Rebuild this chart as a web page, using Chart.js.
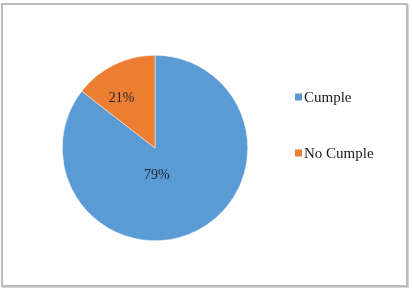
<!DOCTYPE html>
<html>
<head>
<meta charset="utf-8">
<script src="https://cdn.jsdelivr.net/npm/chart.js@4.4.0/dist/chart.umd.min.js"></script>
<style>
  html, body { margin: 0; padding: 0; background: #fff; }
  #wrap { position: relative; width: 412px; height: 290px; overflow: hidden; }
  #frame {
    position: absolute; left: 1px; top: 3px; width: 403px; height: 280px;
    border: 2px solid #bcbcbc; box-shadow: 1px 1px 0 #d8d8d8;
  }
  #pie { position: absolute; left: 0; top: 0; }
</style>
</head>
<body>
<div id="wrap">
  <div id="frame"></div>
  <canvas id="pie" width="412" height="290"></canvas>
</div>
<script>
// categorías y valores (tamaño de sector)
const categories = ["Cumple", "No Cumple"];
const values = [85.5, 14.5];
// etiquetas tal como aparecen en el gráfico original
const pctLabels = ["79%", "21%"];
const colors = ["#5B9BD5", "#ED7D31"];

const FONT = "'Liberation Serif', 'Times New Roman', serif";

// === etiquetas de datos dentro de cada sector ===
// posición relativa al centro, en fracciones del radio (como "mejor ajuste" de Excel)
const labelAnchor = [[0.02, 0.29], [-0.36, -0.54]];
const sliceLabels = {
  id: "sliceLabels",
  afterDatasetsDraw(chart) {
    const ctx = chart.ctx;
    const meta = chart.getDatasetMeta(0);
    ctx.save();
    ctx.font = "14px " + FONT;
    ctx.fillStyle = "#1d2433";
    ctx.textAlign = "center";
    ctx.textBaseline = "middle";
    meta.data.forEach((arc, i) => {
      const r = arc.outerRadius;
      ctx.fillText(pctLabels[i], arc.x + labelAnchor[i][0] * r, arc.y + labelAnchor[i][1] * r);
    });
    ctx.restore();
  }
};

// === leyenda a la derecha ===
const sideLegend = {
  id: "sideLegend",
  afterDraw(chart) {
    const ctx = chart.ctx;
    const x = 295, y0 = 97, gap = 56, box = 7;
    ctx.save();
    ctx.font = "15px " + FONT;
    ctx.textBaseline = "middle";
    ctx.textAlign = "left";
    categories.forEach((c, i) => {
      const y = y0 + i * gap;
      ctx.fillStyle = colors[i];
      ctx.fillRect(x, y - box / 2, box, box);
      ctx.fillStyle = "#1a1a1a";
      ctx.fillText(c, x + box + 2, y + 1);
    });
    ctx.restore();
  }
};

new Chart(document.getElementById("pie"), {
  type: "pie",
  data: {
    labels: categories,
    datasets: [{
      data: values,
      backgroundColor: colors,
      borderColor: "#ffffff",
      borderWidth: 0.5
    }]
  },
  options: {
    responsive: false,
    animation: false,
    layout: { padding: { left: 62, right: 164, top: 55, bottom: 49 } },
    plugins: {
      legend: { display: false },
      tooltip: { enabled: false }
    }
  },
  plugins: [sliceLabels, sideLegend]
});
</script>
</body>
</html>
